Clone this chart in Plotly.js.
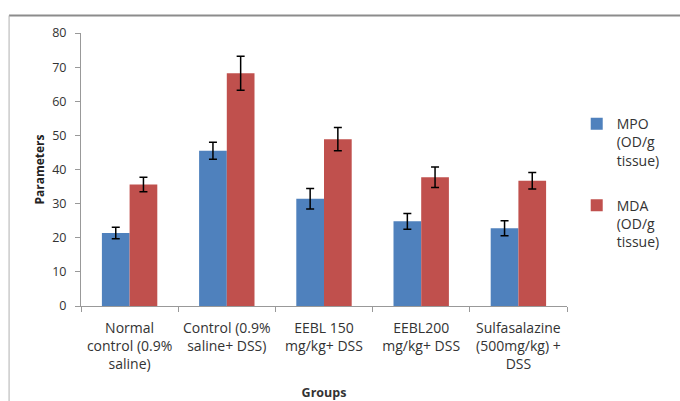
<!DOCTYPE html>
<html>
<head>
<meta charset="utf-8">
<script src="https://cdn.plot.ly/plotly-3.0.1.min.js"></script>
<style>html,body{margin:0;padding:0;background:#fff;}#chart{width:680px;height:401px;}</style>
</head>
<body>
<div id="chart"></div>
<script>
const groups = [
  "Normal<br>control (0.9%<br>saline)",
  "Control (0.9%<br>saline+ DSS)",
  "EEBL 150<br>mg/kg+ DSS",
  "EEBL200<br>mg/kg+ DSS",
  "Sulfasalazine<br>(500mg/kg) +<br>DSS"
];
const mpoValues = [21.4, 45.5, 31.4, 24.8, 22.8];
const mpoErrors = [1.7, 2.5, 3.0, 2.3, 2.2];
const mdaValues = [35.6, 68.2, 48.9, 37.7, 36.7];
const mdaErrors = [2.1, 5.0, 3.4, 3.0, 2.4];
const yTicks = [0, 10, 20, 30, 40, 50, 60, 70, 80];

const font = "'Open Sans', 'DejaVu Sans', sans-serif";

const traces = [
  {
    type: "bar", name: "MPO<br>(OD/g<br>tissue)", x: groups, y: mpoValues, legendgroup: "mpo",
    marker: {color: "#4F81BD"},
    error_y: {type: "data", array: mpoErrors, visible: true, color: "#000", thickness: 1.5, width: 4}
  },
  {
    type: "bar", name: "MDA<br>(OD/g<br>tissue)", x: groups, y: mdaValues, legendgroup: "mda",
    marker: {color: "#C0504D"},
    error_y: {type: "data", array: mdaErrors, visible: true, color: "#000", thickness: 1.5, width: 4}
  }
];

const layout = {
  width: 680, height: 401,
  margin: {l: 81, r: 113, t: 33, b: 95},
  paper_bgcolor: "#fff", plot_bgcolor: "#fff",
  font: {family: font, size: 12, color: "#333"},
  barmode: "group", bargap: 0.43, bargroupgap: 0,
  showlegend: true,
  legend: {x: 1.02, y: 0.725, xanchor: "left", yanchor: "top", valign: "top", traceorder: "grouped",
           font: {size: 14, color: "#333"}, tracegroupgap: 24, bgcolor: "rgba(0,0,0,0)"},
  xaxis: {
    type: "category", showline: true, linecolor: "#999", linewidth: 1,
    ticks: "outside", tickson: "boundaries", ticklen: 5, tickcolor: "#999",
    tickangle: 0, tickfont: {size: 14, color: "#333"}, ticklabelstandoff: 9,
    title: {text: "<b>Groups</b>", font: {size: 12.5, color: "#333"}, standoff: 16},
    showgrid: false, zeroline: false, automargin: false
  },
  yaxis: {
    range: [0, 80], tickvals: yTicks, ticktext: yTicks.map(String),
    showline: true, linecolor: "#999", linewidth: 1,
    ticks: "outside", ticklen: 5, tickcolor: "#999",
    tickfont: {size: 12.5, color: "#333"}, ticklabelstandoff: 6,
    title: {text: "<b>Parameters</b>", font: {size: 12, color: "#222"}, standoff: 5},
    showgrid: false, zeroline: false, automargin: false
  },
  shapes: [
    {type: "line", xref: "paper", yref: "paper", x0: -0.148, x1: 1.3, y0: 1.064, y1: 1.064, line: {color: "#8c8c8c", width: 2}},
    {type: "line", xref: "paper", yref: "paper", x0: -0.148, x1: -0.148, y0: 1.064, y1: -0.5, line: {color: "#b0b0b0", width: 1}}
  ]
};

Plotly.newPlot("chart", traces, layout, {displayModeBar: false, staticPlot: true});
</script>
</body>
</html>
